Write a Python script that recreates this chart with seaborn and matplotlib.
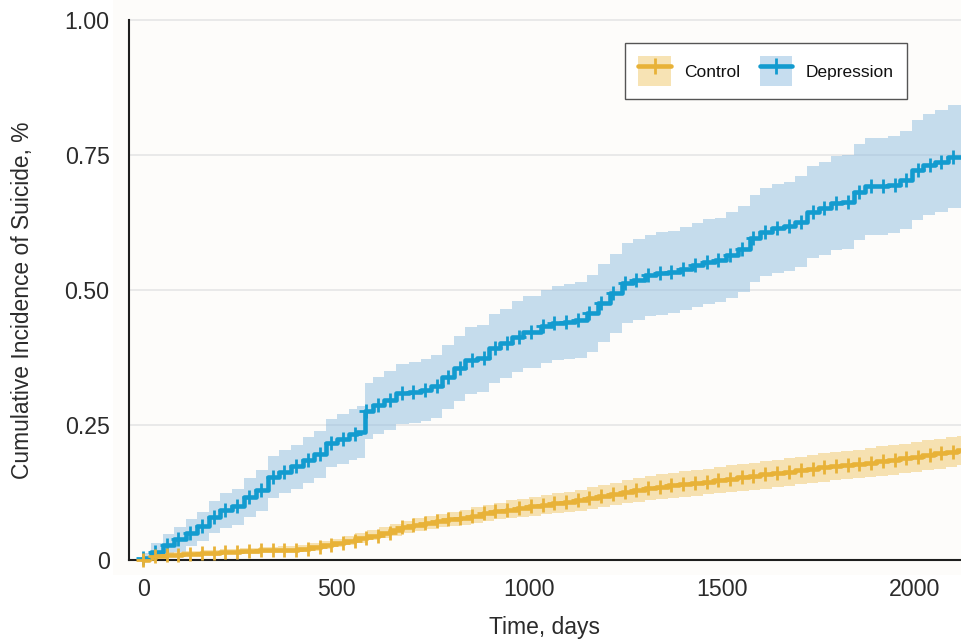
import numpy as np
import matplotlib
matplotlib.use("Agg")
import matplotlib.pyplot as plt
import seaborn as sns
from matplotlib.patches import Patch
from matplotlib.lines import Line2D


# Depression arm: step times (days), cumulative incidence (%) and 95% CI
DEP_DAYS = [0, 20, 50, 80, 110, 140, 170, 200, 230, 262, 292, 322, 352, 383,
            413, 443, 473, 503, 533, 553, 575, 595, 625, 655, 688, 720, 745,
            775, 805, 835, 865, 895, 925, 955, 985, 1030, 1060, 1090, 1120,
            1150, 1180, 1210, 1240, 1270, 1300, 1330, 1360, 1392, 1422, 1452,
            1482, 1512, 1542, 1572, 1600, 1630, 1660, 1690, 1722, 1752, 1782,
            1812, 1842, 1872, 1932, 1962, 1992, 2022, 2052, 2085]
DEP_CIF = [0.005, 0.016, 0.028, 0.039, 0.051, 0.063, 0.080, 0.093, 0.100,
           0.117, 0.130, 0.155, 0.164, 0.174, 0.186, 0.196, 0.217, 0.224,
           0.233, 0.238, 0.276, 0.288, 0.297, 0.309, 0.312, 0.315, 0.322,
           0.340, 0.356, 0.371, 0.374, 0.393, 0.402, 0.414, 0.423, 0.433,
           0.439, 0.442, 0.445, 0.457, 0.476, 0.494, 0.513, 0.519, 0.528,
           0.531, 0.534, 0.540, 0.547, 0.553, 0.556, 0.565, 0.576, 0.596,
           0.608, 0.615, 0.618, 0.627, 0.645, 0.652, 0.661, 0.664, 0.682,
           0.692, 0.695, 0.704, 0.722, 0.732, 0.738, 0.747]
DEP_UPPER = [0.014, 0.032, 0.048, 0.062, 0.076, 0.090, 0.110, 0.125, 0.133,
             0.152, 0.167, 0.193, 0.204, 0.214, 0.228, 0.239, 0.262, 0.270,
             0.280, 0.285, 0.328, 0.340, 0.350, 0.364, 0.368, 0.372, 0.380,
             0.399, 0.416, 0.432, 0.436, 0.456, 0.466, 0.480, 0.490, 0.501,
             0.508, 0.512, 0.515, 0.528, 0.548, 0.567, 0.587, 0.594, 0.603,
             0.607, 0.610, 0.617, 0.624, 0.631, 0.634, 0.644, 0.656, 0.677,
             0.690, 0.697, 0.701, 0.711, 0.730, 0.738, 0.748, 0.751, 0.771,
             0.781, 0.785, 0.795, 0.815, 0.826, 0.833, 0.843]
DEP_LOWER = [0.000, 0.004, 0.010, 0.016, 0.026, 0.036, 0.050, 0.060, 0.066,
             0.080, 0.092, 0.115, 0.124, 0.133, 0.144, 0.152, 0.172, 0.178,
             0.186, 0.190, 0.224, 0.234, 0.242, 0.252, 0.255, 0.258, 0.264,
             0.281, 0.295, 0.308, 0.311, 0.329, 0.337, 0.348, 0.356, 0.365,
             0.370, 0.373, 0.375, 0.386, 0.404, 0.421, 0.439, 0.444, 0.452,
             0.455, 0.457, 0.463, 0.469, 0.475, 0.478, 0.486, 0.496, 0.515,
             0.526, 0.532, 0.535, 0.543, 0.560, 0.566, 0.574, 0.577, 0.593,
             0.602, 0.605, 0.613, 0.630, 0.639, 0.644, 0.652]

# Control arm
CTL_DAYS = [0, 15, 30, 60, 100, 150, 200, 250, 300, 350, 400, 430, 460, 490,
            520, 550, 580, 610, 640, 670, 700, 730, 760, 790, 820, 850, 880,
            910, 940, 970, 1000, 1030, 1060, 1090, 1120, 1150, 1180, 1210,
            1240, 1270, 1300, 1330, 1360, 1390, 1420, 1450, 1480, 1510, 1540,
            1570, 1600, 1630, 1660, 1690, 1720, 1750, 1780, 1810, 1840, 1870,
            1900, 1930, 1960, 1990, 2020, 2050, 2080, 2110]
CTL_CIF = [0.000, 0.004, 0.008, 0.010, 0.012, 0.014, 0.016, 0.017, 0.019,
           0.020, 0.022, 0.025, 0.028, 0.032, 0.036, 0.041, 0.046, 0.051,
           0.056, 0.061, 0.066, 0.070, 0.073, 0.076, 0.079, 0.083, 0.087,
           0.091, 0.094, 0.097, 0.100, 0.103, 0.106, 0.108, 0.111, 0.115,
           0.119, 0.123, 0.127, 0.131, 0.134, 0.136, 0.139, 0.141, 0.144,
           0.146, 0.149, 0.151, 0.154, 0.156, 0.159, 0.161, 0.164, 0.167,
           0.170, 0.172, 0.175, 0.177, 0.179, 0.181, 0.184, 0.186, 0.189,
           0.192, 0.195, 0.198, 0.201, 0.204]
CTL_UPPER = [0.000, 0.007, 0.012, 0.015, 0.017, 0.019, 0.021, 0.023, 0.025,
             0.026, 0.029, 0.032, 0.036, 0.040, 0.045, 0.050, 0.056, 0.061,
             0.067, 0.072, 0.078, 0.082, 0.086, 0.089, 0.093, 0.098, 0.102,
             0.107, 0.111, 0.114, 0.118, 0.121, 0.125, 0.127, 0.131, 0.135,
             0.140, 0.144, 0.149, 0.153, 0.157, 0.159, 0.162, 0.165, 0.168,
             0.170, 0.173, 0.176, 0.179, 0.181, 0.184, 0.186, 0.189, 0.192,
             0.195, 0.198, 0.201, 0.203, 0.205, 0.208, 0.211, 0.213, 0.216,
             0.219, 0.222, 0.225, 0.228, 0.231]
CTL_LOWER = [0.000, 0.001, 0.004, 0.006, 0.008, 0.009, 0.011, 0.012, 0.013,
             0.014, 0.016, 0.018, 0.021, 0.024, 0.028, 0.032, 0.037, 0.041,
             0.046, 0.050, 0.055, 0.058, 0.061, 0.063, 0.066, 0.069, 0.072,
             0.076, 0.078, 0.081, 0.083, 0.085, 0.088, 0.090, 0.092, 0.095,
             0.099, 0.102, 0.106, 0.109, 0.112, 0.114, 0.116, 0.118, 0.120,
             0.122, 0.124, 0.126, 0.129, 0.131, 0.133, 0.135, 0.138, 0.141,
             0.143, 0.145, 0.148, 0.150, 0.152, 0.154, 0.156, 0.158, 0.161,
             0.164, 0.167, 0.170, 0.173, 0.176]

# censoring marks (same monthly times in both arms)
CENSOR_DAYS = [0, 30, 61, 91, 122, 152, 183, 213, 243, 274, 304, 335, 365,
               396, 426, 457, 487, 517, 548, 578, 609, 639, 670, 700, 730,
               761, 791, 822, 852, 883, 913, 943, 974, 1004, 1035, 1065, 1096,
               1126, 1156, 1187, 1217, 1248, 1278, 1309, 1339, 1369, 1400,
               1430, 1461, 1491, 1522, 1552, 1582, 1613, 1643, 1674, 1704,
               1735, 1765, 1795, 1826, 1856, 1887, 1917, 1948, 1978, 2008,
               2039, 2069, 2100]
LAST_DAY = 2130

GROUPS = ["Control", "Depression"]
LINE_COLORS = {"Control": "#e8b238", "Depression": "#139bcf"}
BAND_COLORS = {"Control": "#f1c86a", "Depression": "#8fbde0"}

Y_TICKS = [0, 0.25, 0.5, 0.75, 1.0]
Y_TICKLABELS = ["0", "0.25", "0.50", "0.75", "1.00"]
X_TICKS = [0, 500, 1000, 1500, 2000]

TEXT = "#2b2b2b"
SPINE = "#1e1e1e"
LW = 3.3


def value_at(days, vals, t):
    """Value of the step curve at time t"""
    idx = np.searchsorted(days, t, side="right") - 1
    return np.asarray(vals)[idx]


def draw_arm(ax, days, cif, lower, upper, name):
    x = list(days) + [LAST_DAY]
    y = list(cif) + [cif[-1]]
    lo = list(lower) + [lower[-1]]
    hi = list(upper) + [upper[-1]]
    ax.fill_between(x, lo, hi, step="post", color=BAND_COLORS[name],
                    alpha=0.5, lw=0, zorder=2)
    sns.lineplot(x=x, y=y, drawstyle="steps-post", color=LINE_COLORS[name],
                 lw=LW, ax=ax, zorder=3, estimator=None)
    marks = [d for d in CENSOR_DAYS if d <= LAST_DAY]
    ax.plot(marks, value_at(days, cif, marks), ls="none", marker="+",
            ms=10, mew=2.0, color=LINE_COLORS[name], zorder=4)


def main():
    sns.set_style("white")
    plt.rcParams["font.family"] = ["Liberation Sans", "DejaVu Sans"]

    fig = plt.figure(figsize=(9.61, 6.44), dpi=100)
    fig.patch.set_facecolor("white")
    ax = fig.add_axes([113 / 961, 69 / 644, 848 / 961, 575 / 644])
    ax.set_facecolor("#fdfcfa")

    ax.set_xlim(-78.6, 2120)
    ax.set_ylim(-0.027, 1.037)

    # light horizontal grid
    for yv in Y_TICKS[1:]:
        ax.axhline(yv, xmin=(41.6 / 2198.6), xmax=1, color="#e9e9e9",
                   lw=1.4, zorder=1)

    draw_arm(ax, DEP_DAYS, DEP_CIF, DEP_LOWER, DEP_UPPER, "Depression")
    draw_arm(ax, CTL_DAYS, CTL_CIF, CTL_LOWER, CTL_UPPER, "Control")

    # spines like the original (left one offset from zero)
    for side in ["top", "right"]:
        ax.spines[side].set_visible(False)
    ax.spines["left"].set_position(("data", -37))
    ax.spines["left"].set_bounds(0, 1)
    ax.spines["bottom"].set_position(("data", 0))
    ax.spines["bottom"].set_bounds(-37, 2120)
    for side in ["left", "bottom"]:
        ax.spines[side].set_color(SPINE)
        ax.spines[side].set_linewidth(1.5)

    ax.set_yticks(Y_TICKS)
    ax.set_yticklabels(Y_TICKLABELS)
    ax.set_xticks(X_TICKS)
    ax.tick_params(axis="both", direction="out", length=7, width=1.5,
                   color=SPINE, labelsize=16.7, labelcolor=TEXT)
    ax.tick_params(axis="y", pad=7)
    ax.tick_params(axis="x", pad=6)

    ax.set_xlabel("Time, days", fontsize=16.5, color=TEXT)
    ax.set_ylabel("Cumulative Incidence of Suicide, %", fontsize=16.4,
                  color=TEXT)
    ax.xaxis.set_label_coords(0.509, -0.092)
    ax.xaxis.label.set_va("center")
    ax.yaxis.set_label_coords(-0.107, 0.478)
    ax.yaxis.label.set_va("center")

    handles = []
    for name in GROUPS:
        patch = Patch(facecolor=BAND_COLORS[name], alpha=0.5, lw=0)
        line = Line2D([], [], color=LINE_COLORS[name], lw=LW, marker="+",
                      ms=11, mew=2.0)
        handles.append((patch, line))
    leg = ax.legend(handles, GROUPS, loc="upper right",
                    bbox_to_anchor=(0.936, 0.925), borderaxespad=0,
                    ncol=2, fontsize=12.5, frameon=True, fancybox=False,
                    handlelength=1.85, handleheight=2.3, handletextpad=0.8,
                    columnspacing=1.1, borderpad=0.75)
    leg.get_frame().set_edgecolor("#555555")
    leg.get_frame().set_linewidth(1.0)
    leg.get_frame().set_facecolor("white")
    leg.get_frame().set_alpha(1.0)
    for t in leg.get_texts():
        t.set_color("#111111")

    fig.savefig("out.png", dpi=100, facecolor="white")


if __name__ == "__main__":
    main()
